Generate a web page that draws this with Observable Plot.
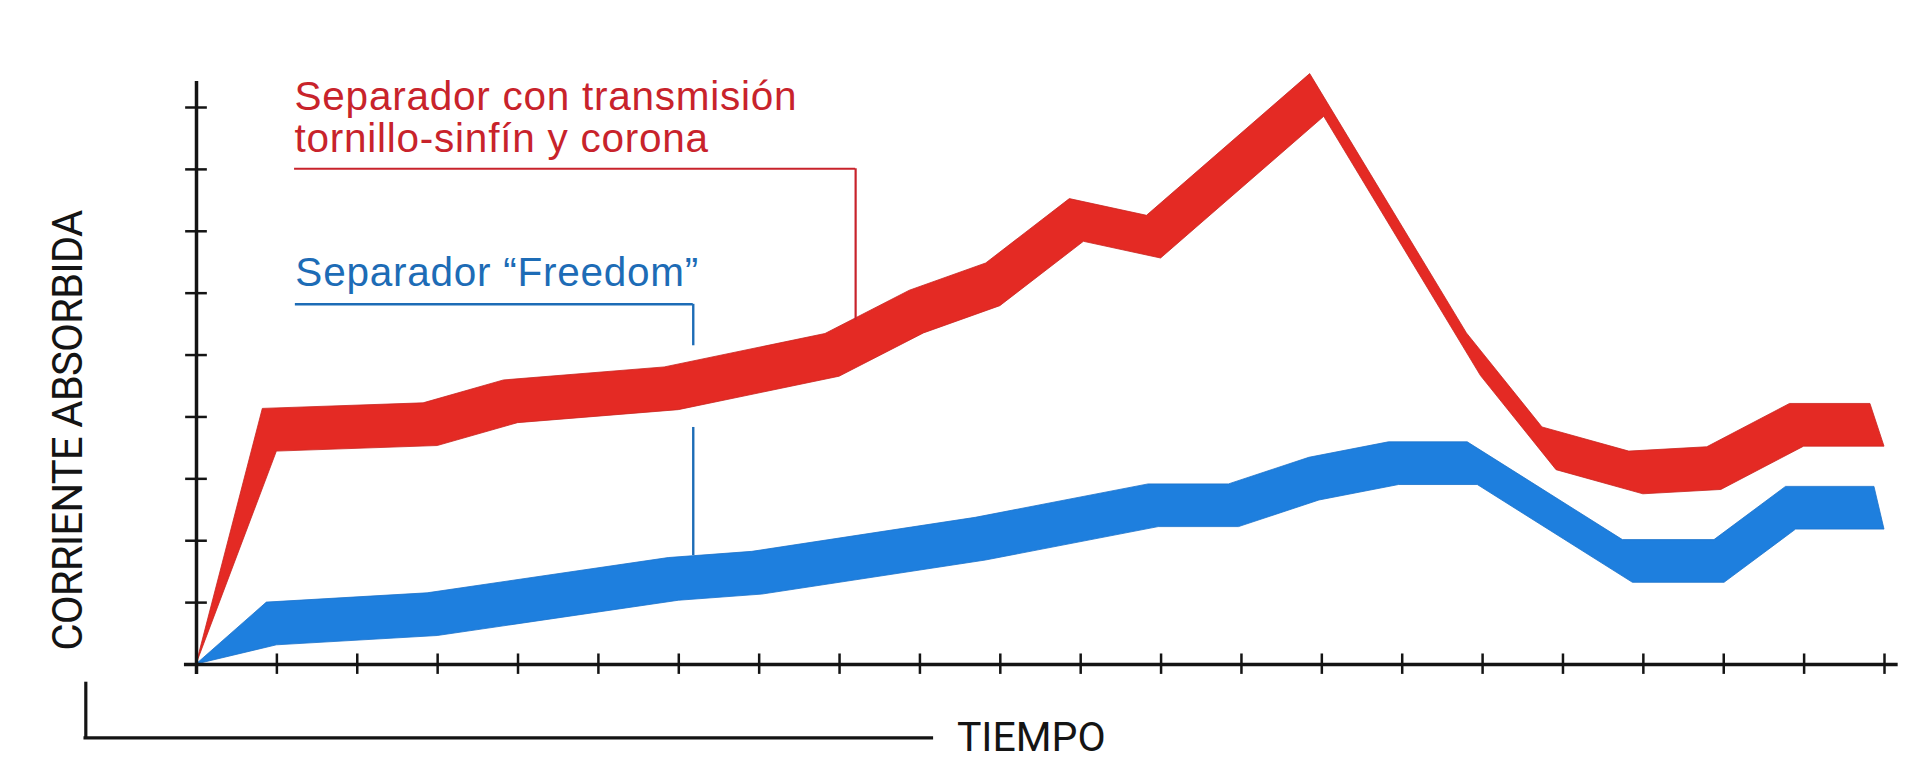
<!DOCTYPE html>
<html>
<head>
<meta charset="utf-8">
<script src="https://cdn.jsdelivr.net/npm/d3@7"></script>
<script src="https://cdn.jsdelivr.net/npm/@observablehq/plot@0.6"></script>
<style>
  html, body { margin: 0; padding: 0; background: #fff; overflow: hidden; }
  #chart svg { display: block; }
</style>
</head>
<body>
<div id="chart"></div>
<script>
// ---- Data (lower edge of each band) ----
const tiempoRojo     = [0, 1, 3, 4, 6, 8, 9.05, 10, 11.04, 12, 14.03, 15.98, 16.92, 18, 18.97, 20, 21];
const corrienteRojo  = [0, 3.44, 3.53, 3.90, 4.11, 4.65, 5.35, 5.79, 6.83, 6.56, 8.85, 4.66, 3.14, 2.75, 2.82, 3.52, 3.52];
const tiempoAzul     = [0, 1, 3, 6, 7.04, 9.82, 11.97, 12.97, 13.97, 14.96, 15.94, 17.87, 19.01, 19.9, 21];
const corrienteAzul  = [0, 0.31, 0.46, 1.03, 1.13, 1.68, 2.22, 2.22, 2.65, 2.90, 2.90, 1.32, 1.32, 2.18, 2.18];
const ticksTiempo    = d3.range(0, 22);      // 0..21
const ticksCorriente = d3.range(0, 10);      // 0..9
const etiquetaRojo   = ["Separador con transmisión", "tornillo-sinfín y corona"];
const etiquetaAzul   = ["Separador \u201CFreedom\u201D"];
const tituloY        = "CORRIENTE ABSORBIDA";
const tituloX        = "TIEMPO";

// ---- Styling constants (band drawn like a slanted broad pen) ----
const GROSOR = 0.69;          // band thickness in y units
const SESGO_ROJO = 0.175;     // horizontal pen slant in x units
const SESGO_AZUL = 0.125;
const ROJO = "#e42a24", ROJO_TXT = "#c8232b";
const AZUL = "#1e7fde", AZUL_TXT = "#1d6cb6";
const NEGRO = "#141414";

function banda(ts, vs, sesgo) {
  return ts.map((t, i) => ({
    x1: t, y1: vs[i],
    x2: i === 0 ? t : t - sesgo,
    y2: i === 0 ? vs[i] : vs[i] + GROSOR
  }));
}
const bandaRojo = banda(tiempoRojo, corrienteRojo, SESGO_ROJO);
const bandaAzul = banda(tiempoAzul, corrienteAzul, SESGO_AZUL);

const font = "Liberation Sans, Arial, Helvetica, sans-serif";
const fontAxis = "Roboto, Liberation Sans, Arial, sans-serif";

const chart = Plot.plot({
  width: 1920,
  height: 782,
  marginLeft: 196,
  marginRight: 36,
  marginTop: 107,
  marginBottom: 118,
  x: { domain: [0, 21], axis: null },
  y: { domain: [0, 9], axis: null },
  style: { background: "#fff", fontFamily: font },
  marks: [
    // bands
    Plot.area(bandaAzul, { x1: "x1", y1: "y1", x2: "x2", y2: "y2", fill: AZUL, stroke: "#1a72cc", strokeWidth: 0.8 }),
    Plot.area(bandaRojo, { x1: "x1", y1: "y1", x2: "x2", y2: "y2", fill: ROJO, stroke: "#c92420", strokeWidth: 0.8 }),

    // axes lines
    Plot.ruleY([0], { x1: -0.15, x2: 21.17, stroke: NEGRO, strokeWidth: 3.5 }),
    Plot.ruleX([0], { y1: -0.16, y2: 9.42, stroke: NEGRO, strokeWidth: 3.5 }),
    // ticks crossing the axes
    Plot.ruleX(ticksTiempo, { x: d => d, y1: -0.16, y2: 0.17, stroke: NEGRO, strokeWidth: 2.5 }),
    Plot.ruleY(ticksCorriente, { y: d => d, x1: -0.135, x2: 0.135, stroke: NEGRO, strokeWidth: 2.5 }),

    // leader lines
    Plot.ruleY([8.01], { x1: 1.22, x2: 8.2, stroke: ROJO_TXT, strokeWidth: 2.2 }),
    Plot.ruleX([8.2], { y1: 8.01, y2: 5.56, stroke: ROJO_TXT, strokeWidth: 2.2 }),
    Plot.ruleY([5.82], { x1: 1.23, x2: 6.18, stroke: AZUL_TXT, strokeWidth: 2.4 }),
    Plot.ruleX([6.18], { y1: 5.82, y2: 5.15, stroke: AZUL_TXT, strokeWidth: 2.4 }),
    Plot.ruleX([6.18], { y1: 3.83, y2: 1.76, stroke: AZUL_TXT, strokeWidth: 2.4 }),

    // bottom "TIEMPO" bracket
    Plot.ruleX([-1.377], { y1: -0.286, y2: -1.19, stroke: NEGRO, strokeWidth: 3.2 }),
    Plot.ruleY([-1.184], { x1: -1.4, x2: 9.17, stroke: NEGRO, strokeWidth: 3.2 }),

    // labels
    Plot.text(etiquetaRojo, { x: 1.22, y: (d, i) => [8.96, 8.28][i], text: d => d, fill: ROJO_TXT,
      fontSize: 40.5, textAnchor: "start", lineAnchor: "bottom", fontFamily: font }),
    Plot.text(etiquetaAzul, { x: 1.23, y: 6.12, text: d => d, fill: AZUL_TXT,
      fontSize: 40.5, textAnchor: "start", lineAnchor: "bottom", fontFamily: font }),
    Plot.text([tituloY], { x: -1.59, y: 3.78, text: d => d, rotate: -90, fill: NEGRO,
      fontSize: 42, textAnchor: "middle", lineAnchor: "middle", fontFamily: fontAxis }),
    Plot.text([tituloX], { x: 9.46, y: -1.405, text: d => d, fill: NEGRO,
      fontSize: 41, textAnchor: "start", lineAnchor: "bottom", fontFamily: fontAxis })
  ]
});

// letter spacing tweaks
const textGroups = chart.querySelectorAll('g[aria-label="text"]');
if (textGroups[0]) textGroups[0].style.letterSpacing = "0.75px";
if (textGroups[1]) textGroups[1].style.letterSpacing = "0.75px";
if (textGroups[2]) textGroups[2].style.letterSpacing = "-0.9px";

document.getElementById("chart").appendChild(chart);
</script>
</body>
</html>
